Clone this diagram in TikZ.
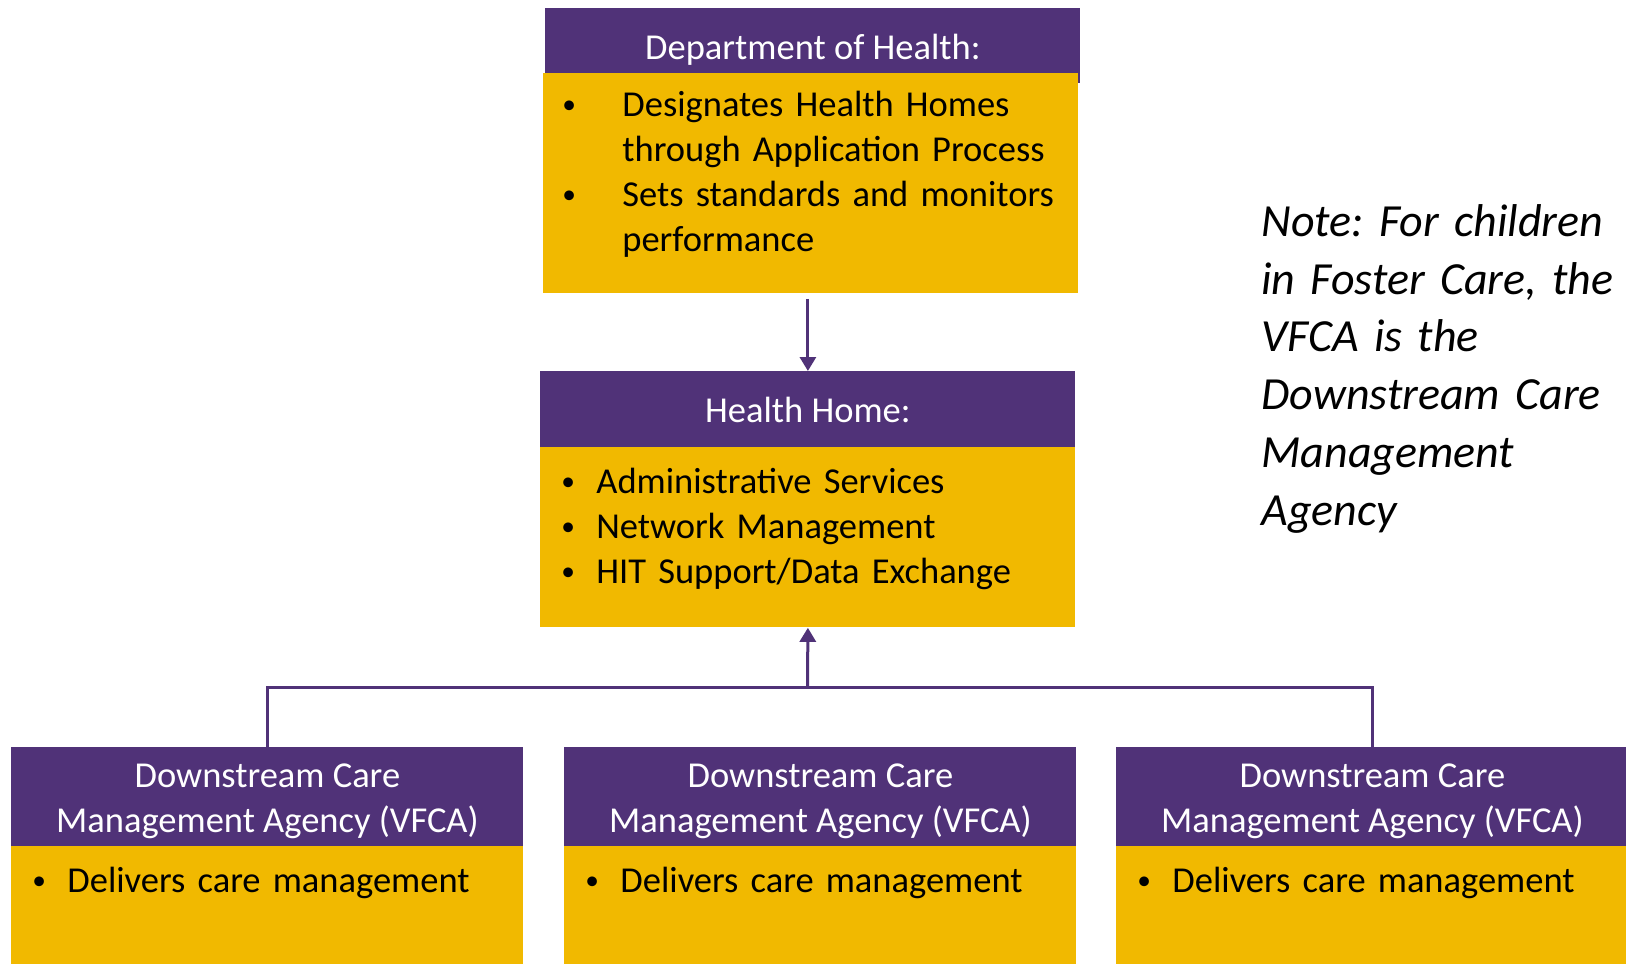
\documentclass[tikz,border=0pt]{standalone}
\usepackage{fontspec}
\setmainfont{Carlito}
\usetikzlibrary{arrows.meta}
\definecolor{hhpurple}{RGB}{80,50,120}
\definecolor{hhgold}{RGB}{241,185,0}
\setlength{\parindent}{0pt}
\frenchspacing
\newcommand{\boxfont}{\fontsize{18.25}{22.5}\selectfont}
\newcommand{\notefont}{\fontsize{23}{28.9}\selectfont\itshape}
\newcommand{\bul}[1]{\strut\makebox[#1][l]{\raisebox{1.6pt}{\scalebox{0.75}{\textbullet}}}}
\begin{document}
\begin{tikzpicture}[x=0.5pt,y=-0.5pt,
	head/.style={fill=hhpurple,text=white,inner sep=0pt,align=center,font=\boxfont,anchor=north west},
	body/.style={fill=hhgold,inner sep=0pt,anchor=north west},
	items/.style={anchor=north west,inner sep=0pt,align=left,font=\boxfont},
	link/.style={draw=hhpurple,line width=1.5pt},
	linkarrow/.style={link,-{Triangle[width=8pt,length=7pt]}}]
	\useasboundingbox (0,0) rectangle (1626,964);
	% Department of Health
	\node[head,minimum width=267.5pt,minimum height=37.5pt] (dohhead) at (545,8)
		{\rule[-12.2pt]{0pt}{37.5pt}Department of Health:};
	\node[body,minimum width=267.5pt,minimum height=110pt] (dohbody) at (543,73) {};
	\node[items,text width=250pt] (dohlist) at ([shift={(19,12)}]dohbody.north west)
		{\bul{30pt}Designates Health Homes\\
		\strut\hspace*{30pt}through Application Process\\
		\bul{30pt}Sets standards and monitors\\
		\strut\hspace*{30pt}performance};
	% Health Home
	\node[head,minimum width=267.5pt,minimum height=38pt] (hhhead) at (540,371)
		{\rule[-12.5pt]{0pt}{38pt}Health Home:};
	\node[body,minimum width=267.5pt,minimum height=90pt] (hhbody) at (540,447) {};
	\node[items,text width=250pt] (hhlist) at ([shift={(21,15)}]hhbody.north west)
		{\bul{17.5pt}Administrative Services\\
		\bul{17.5pt}Network Management\\
		\bul{17.5pt}HIT Support/Data Exchange};
	% downstream agencies
	\foreach \n/\x in {1/11,2/564,3/1116}{
		\node[head,minimum width=256pt,minimum height=49.5pt] (dcm\n head) at (\x,747)
			{\rule{0pt}{20.1pt}Downstream Care\\Management Agency (VFCA)\rule[-6.9pt]{0pt}{6.9pt}};
		\node[body,minimum width=256pt,minimum height=59pt] (dcm\n body) at (\x,846) {};
		\node[items,text width=240pt] (dcm\n list) at ([shift={(21,15)}]dcm\n body.north west)
			{\bul{17.5pt}Delivers care management};
	}
	% note
	\node[anchor=north west,inner sep=0pt,align=left,text width=180pt,font=\notefont] (note) at (1261,195.5)
		{\strut Note: For children\\in Foster Care, the\\VFCA is the\\Downstream Care\\Management\\Agency};
	% connectors
	\coordinate (join) at (807.5,687);
	\draw[linkarrow,shorten <=2.5pt] (hhhead.north |- dohbody.south) -- (hhhead.north);
	\draw[link] (dcm1head.north) |- (join) -| (dcm3head.north);
	\draw[linkarrow] (join) -- (hhbody.south);
\end{tikzpicture}
\end{document}
